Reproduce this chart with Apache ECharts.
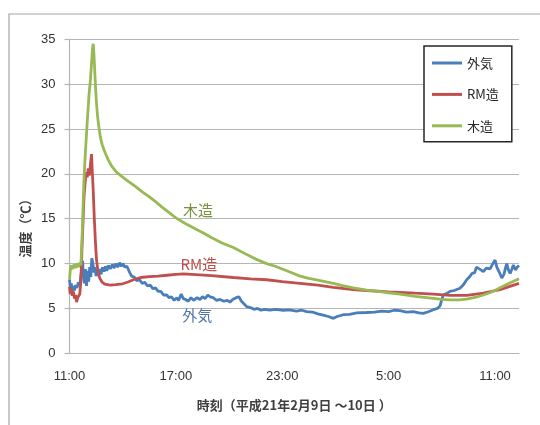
<!DOCTYPE html>
<html>
<head>
<meta charset="utf-8">
<script src="https://cdn.jsdelivr.net/npm/echarts@6/dist/echarts.min.js"></script>
<style>html,body{margin:0;padding:0;background:#fff;}#c{width:540px;height:425px;}</style>
</head>
<body>
<div id="c"></div>
<script>
// hours elapsed since 11:00 on 2/9
var seriesNames = ['外気', 'RM造', '木造'];
var xTickLabels = ['11:00', '17:00', '23:00', '5:00', '11:00'];
var yTicks = [0, 5, 10, 15, 20, 25, 30, 35];

var outdoorT = [0,0.05,0.1,0.16,0.22,0.28,0.34,0.42,0.5,0.58,0.64,0.7,0.74,0.78,0.84,0.9,0.96,1.02,1.08,1.14,1.2,1.26,1.32,1.38,1.44,1.5,1.56,1.62,1.7,1.78,1.86,1.94,2.02,2.1,2.2,2.3,2.42,2.52,2.62,2.72,2.82,2.92,3.02,3.12,3.24,3.35,3.5,3.65,3.8,3.95,4.1,4.25,4.4,4.55,4.7,4.85,5.0,5.15,5.3,5.48,5.62,5.75,5.9,6.05,6.15,6.3,6.42,6.55,6.7,6.85,7.0,7.2,7.36,7.5,7.65,7.8,7.92,8.1,8.3,8.49,8.7,8.9,9.05,9.2,9.4,9.55,9.7,9.85,10.0,10.2,10.4,10.6,10.8,11.0,11.3,11.6,12.06,12.4,12.8,13.1,13.38,13.7,14.0,14.31,14.6,14.88,15.1,15.44,15.8,16.2,16.76,17.2,17.6,18.0,18.3,18.64,19.0,19.4,19.7,19.95,20.2,20.52,20.75,20.9,21.0,21.08,21.3,21.46,21.7,22.02,22.2,22.4,22.55,22.7,22.85,22.95,23.06,23.2,23.34,23.5,23.72,23.85,24.0,24.1,24.25,24.38,24.5,24.6,24.66,24.75,24.85,24.95,25.03,25.15,25.25,25.35];
var outdoorV = [8.2,7.2,7.8,6.9,7.5,7.0,7.6,7.3,7.9,7.6,8.6,9.5,10.3,8.6,7.8,9.4,7.5,9.2,8.0,9.6,8.5,10.6,10.0,9.0,9.6,8.6,9.3,8.7,9.4,8.8,9.6,9.1,9.7,9.2,9.8,9.4,9.9,9.5,10.0,9.6,10.1,9.7,10.0,9.6,9.7,9.2,8.6,8.5,8.1,8.2,7.8,7.9,7.5,7.6,7.2,7.3,6.9,6.9,6.5,6.5,6.2,6.3,5.9,6.2,5.9,6.6,6.1,6.0,5.8,6.2,5.9,6.2,6.0,6.3,6.1,6.5,6.3,6.2,5.9,6.0,5.8,5.9,5.7,6.0,6.2,6.3,5.8,5.5,5.2,5.1,4.9,5.0,4.8,4.9,4.8,4.9,4.8,4.85,4.7,4.8,4.65,4.6,4.4,4.25,4.1,3.9,4.1,4.3,4.35,4.5,4.55,4.6,4.7,4.65,4.8,4.75,4.6,4.65,4.5,4.45,4.6,4.85,5.0,5.3,6.0,6.5,6.7,6.9,7.0,7.25,7.6,8.2,8.5,8.9,9.0,9.6,9.7,9.3,9.1,9.5,9.4,9.9,10.4,9.6,9.0,8.4,8.8,9.6,10.0,9.3,8.9,9.4,9.85,9.3,9.6,9.8];

var rmT = [0,0.04,0.1,0.16,0.22,0.28,0.34,0.4,0.46,0.52,0.58,0.64,0.7,0.76,0.82,0.88,0.94,1.0,1.06,1.12,1.18,1.24,1.28,1.33,1.4,1.46,1.52,1.6,1.7,1.85,2.0,2.3,2.6,3.0,3.3,3.6,4.0,4.5,5.0,5.5,6.0,6.42,7.36,8.0,9.24,10.2,11.12,12.0,13.0,14.0,14.88,16.0,16.76,18.0,18.64,19.5,20.52,21.46,22.4,23.34,24.28,25.35];
var rmV = [7.4,6.6,7.2,6.4,6.9,6.1,6.5,5.7,6.2,6.0,6.6,8.0,11.5,14.5,17.5,19.0,20.2,19.6,20.6,19.8,21.0,22.2,20.5,18.5,15.0,12.5,10.5,9.2,8.4,7.9,7.7,7.6,7.65,7.75,7.95,8.2,8.45,8.55,8.6,8.7,8.8,8.85,8.75,8.65,8.45,8.3,8.2,8.0,7.8,7.6,7.35,7.1,7.0,6.85,6.8,6.7,6.6,6.45,6.45,6.7,7.1,7.8];

var woodT = [0,0.04,0.1,0.18,0.26,0.34,0.42,0.5,0.58,0.64,0.7,0.76,0.82,0.9,1.0,1.1,1.18,1.26,1.3,1.34,1.38,1.42,1.47,1.52,1.58,1.65,1.74,1.85,2.02,2.2,2.4,2.65,2.96,3.3,3.71,4.1,4.47,4.85,5.22,5.6,6.0,6.5,7.17,7.6,8.0,8.6,9.24,10.0,10.5,11.12,11.6,12.0,12.5,13.0,13.5,14.0,14.88,15.4,16.0,16.76,17.4,18.0,18.64,19.5,20.52,21.0,21.46,22.0,22.4,23.0,23.34,23.7,24.0,24.28,24.8,25.35];
var woodV = [8.2,9.2,9.8,9.4,9.9,9.5,10.0,9.6,10.1,9.8,12.5,16.0,19.5,22.5,25.8,28.8,30.5,32.8,34.0,34.5,33.3,31.6,29.6,27.9,26.5,25.3,24.1,23.2,22.3,21.5,20.8,20.2,19.7,19.2,18.6,18.0,17.5,16.9,16.3,15.7,15.1,14.5,13.8,13.35,12.9,12.3,11.8,11.0,10.5,10.0,9.7,9.4,9.0,8.6,8.35,8.15,7.8,7.55,7.3,7.05,6.9,6.75,6.6,6.35,6.13,6.0,5.95,5.95,6.05,6.3,6.5,6.75,7.0,7.3,7.8,8.3];

// inline label anchor [hours, value]
var labelOutdoor = [7.2, 4.27];
var labelRM = [7.3, 9.96];
var labelWood = [7.25, 15.97];

function zip(t, v) { var r = []; for (var i = 0; i < t.length; i++) r.push([t[i], v[i]]); return r; }

var jp = '"Noto Sans CJK JP", "Noto Sans", sans-serif';
var chart = echarts.init(document.getElementById('c'), null, {renderer: 'canvas'});

function mk(name, color, data, lbl, lblColor) {
  return {
    name: name, type: 'line', data: data, symbol: 'none', showSymbol: false,
    lineStyle: {color: color, width: 2.8}, itemStyle: {color: color},
    animation: false, z: 3,
    markPoint: {
      symbol: 'rect', symbolSize: 1, itemStyle: {color: 'rgba(0,0,0,0)'},
      label: {show: true, position: 'inside', formatter: name, color: lblColor, fontSize: 15, fontFamily: jp},
      data: [{coord: lbl}], animation: false
    }
  };
}

chart.setOption({
  backgroundColor: '#fff',
  animation: false,
  graphic: [
    {type: 'rect', shape: {x: 9, y: 14, width: 560, height: 440}, style: {fill: 'none', stroke: '#a6a6a6', lineWidth: 1.2}, silent: true, z: -1},
    {type: 'text', x: 25, y: 225, rotation: Math.PI / 2, style: {text: '温度（℃）', font: 'bold 13px ' + jp, fill: '#404040', align: 'center', verticalAlign: 'middle'}}
  ],
  grid: {left: 69.5, right: 21, top: 39.3, bottom: 71.7, containLabel: false},
  legend: {
    orient: 'vertical', left: 424, top: 46, padding: [9, 13, 8, 8], itemGap: 15.4,
    itemWidth: 30, itemHeight: 3, icon: 'rect', itemTextGap: 2,
    textStyle: {fontSize: 13, lineHeight: 16, color: '#262626', fontFamily: jp},
    borderColor: '#262626', borderWidth: 1.5, backgroundColor: '#fff',
    data: seriesNames
  },
  xAxis: {
    type: 'value', min: 0, max: 25.35, interval: 6,
    name: '時刻（平成21年2月9日 ～10日 ）', nameLocation: 'middle', nameGap: 45,
    nameTextStyle: {fontSize: 13, fontWeight: 'bold', color: '#404040', fontFamily: jp},
    axisLine: {lineStyle: {color: '#b5b5b5', width: 1.2}},
    axisTick: {show: false},
    splitLine: {show: false},
    axisLabel: {
      margin: 17, fontSize: 13, color: '#333', fontFamily: '"Liberation Sans", sans-serif',
      showMaxLabel: false,
      formatter: function (v) { var k = Math.round(v / 6); return Math.abs(v - k * 6) < 1e-6 ? xTickLabels[k] : ''; }
    }
  },
  yAxis: {
    type: 'value', min: yTicks[0], max: yTicks[yTicks.length - 1], interval: 5,
    axisLine: {show: true, lineStyle: {color: '#b5b5b5', width: 1.2}},
    axisTick: {show: true, length: 5, lineStyle: {color: '#b5b5b5', width: 1.2}},
    splitLine: {lineStyle: {color: '#b5b5b5', width: 1.2}},
    axisLabel: {margin: 14, fontSize: 13, color: '#333', fontFamily: '"Liberation Sans", sans-serif'}
  },
  series: [
    mk(seriesNames[0], '#4a7ebb', zip(outdoorT, outdoorV), labelOutdoor, '#4f74a8'),
    mk(seriesNames[1], '#c0504d', zip(rmT, rmV), labelRM, '#c0504d'),
    mk(seriesNames[2], '#98b954', zip(woodT, woodV), labelWood, '#76923c')
  ]
});
</script>
</body>
</html>
